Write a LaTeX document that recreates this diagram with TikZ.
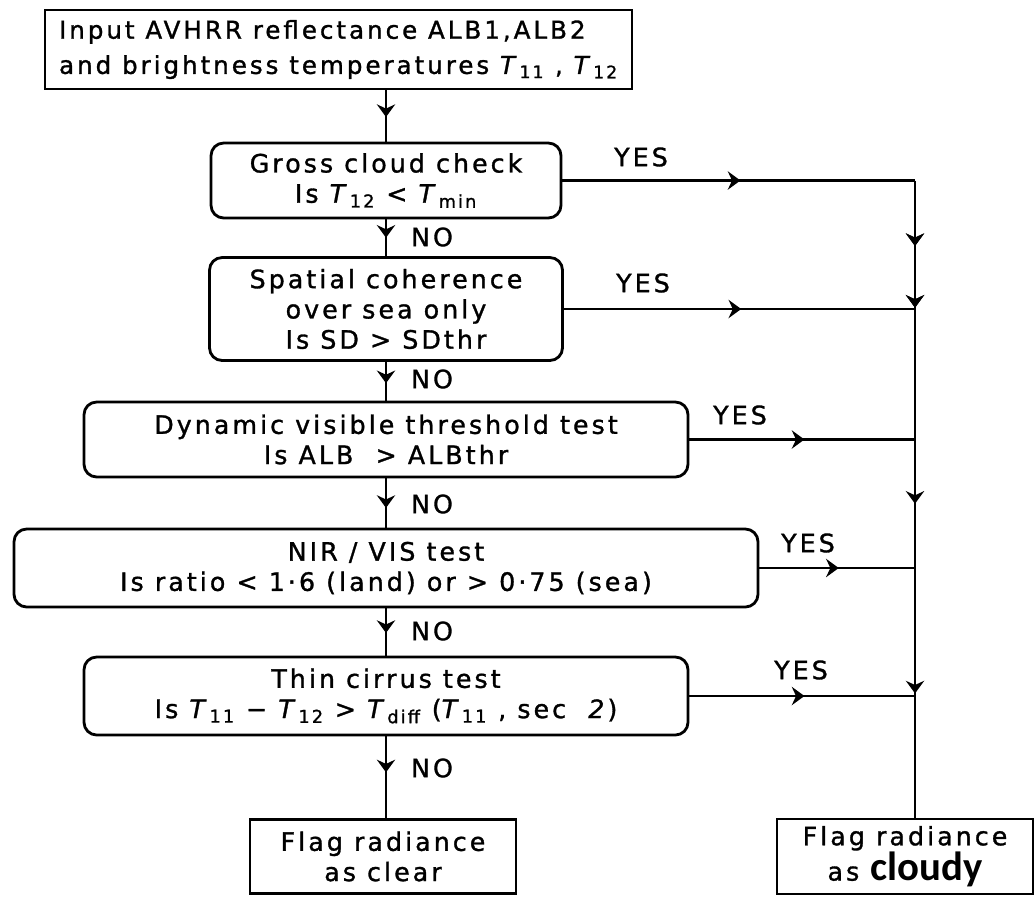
\documentclass[tikz,border=0pt]{standalone}
\usepackage{fontspec}
\setmainfont{DejaVu Sans}[LetterSpace=12,FakeBold=1.2]
\newfontfamily\cloudyfont{Carlito}
\usetikzlibrary{arrows.meta,decorations.markings}
\newcommand\Tv[1]{\textit{T}\textsubscript{#1}}
\begin{document}
\begin{tikzpicture}[x=0.025cm,y=-0.025cm,
  every node/.style={font=\fontsize{18}{21.5}\selectfont},
  sz/.style 2 args={minimum width=#1*0.025cm, minimum height=#2*0.025cm},
  box/.style={draw, line width=2pt, inner sep=0pt, align=center},
  rbox/.style={box, rounded corners=9pt},
  ln/.style={line width=2pt},
  tipat/.style={postaction={decorate}, decoration={markings,
      mark=at position #1 with {\arrow{Stealth[length=9pt,width=13pt,inset=3pt]}}}},
  lbl/.style={inner sep=0pt}
]
\useasboundingbox (0,0) rectangle (1036,897);
\coordinate (sx) at (915,0);
% boxes
\node[box, sz={587}{79}, align=left, font=\fontsize{17.5}{25}\selectfont] (inp) at (338.5,49.5)
  {Input AVHRR reflectance ALB1,ALB2\\and brightness temperatures \Tv{11} , \Tv{12}};
\node[rbox, sz={350}{75}] (gross) at (386,180.5) {Gross cloud check\\Is \Tv{12} < \Tv{min}};
\node[rbox, sz={353}{103}] (spat) at (386,309) {Spatial coherence\\over sea only\\Is SD > SDthr};
\node[rbox, sz={604}{75}] (dyn) at (386,439.5) {Dynamic visible threshold test\\Is ALB \ > ALBthr};
\node[rbox, sz={744}{78}] (nir) at (386,568) {NIR / VIS test\\Is ratio < 1·6 (land) or > 0·75 (sea)};
\node[rbox, sz={604}{78}] (thin) at (386,696) {Thin cirrus test\\Is \Tv{11} − \Tv{12} > \Tv{diff} (\Tv{11} , sec \ \textit{2})};
\node[box, sz={266}{74}] (clear) at (383,856.5) {Flag radiance\\as clear};
\node[box, sz={256}{75}] (cloudy) at (905,856.5) {Flag radiance\\as {\cloudyfont\bfseries\fontsize{29}{24}\selectfont cloudy}};
% labels
\node[lbl] (y1) at (641,157) {YES};
\node[lbl] (y2) at (643,283) {YES};
\node[lbl] (y3) at (740,415) {YES};
\node[lbl] (y4) at (808,543) {YES};
\node[lbl] (y5) at (801,670) {YES};
\node[lbl] (n1) at (432,237) {NO};
\node[lbl] (n2) at (432,379) {NO};
\node[lbl] (n3) at (432,504) {NO};
\node[lbl] (n4) at (432,631) {NO};
\node[lbl] (n5) at (432,768) {NO};
% centre column
\draw[ln, tipat=0.52] (inp.south -| gross.north) -- (gross.north);
\draw[ln, tipat=0.5] (gross.south) -- (spat.north);
\draw[ln, tipat=0.55] (spat.south) -- (dyn.north);
\draw[ln, tipat=0.6] (dyn.south) -- (nir.north);
\draw[ln, tipat=0.52] (nir.south) -- (thin.north);
\draw[ln, tipat=0.44] (thin.south) -- (thin.south |- clear.north);
% YES branches
\draw[ln, tipat=0.505] (gross.east) -- (gross.east -| sx);
\draw[ln, tipat=0.505] (spat.east) -- (spat.east -| sx);
\draw[ln, tipat=0.51] (dyn.east) -- (dyn.east -| sx);
\draw[ln, tipat=0.51] (nir.east) -- (nir.east -| sx);
\draw[ln, tipat=0.51] (thin.east) -- (thin.east -| sx);
% right spine
\draw[ln, tipat=0.51, tipat=0.99] (gross.east -| sx) -- (spat.east -| sx);
\draw[ln] (spat.east -| sx) -- (dyn.east -| sx);
\draw[ln, tipat=0.5] (dyn.east -| sx) -- (nir.east -| sx);
\draw[ln, tipat=0.98] (nir.east -| sx) -- (thin.east -| sx);
\draw[ln] (thin.east -| sx) -- (cloudy.north -| sx);
\end{tikzpicture}
\end{document}
